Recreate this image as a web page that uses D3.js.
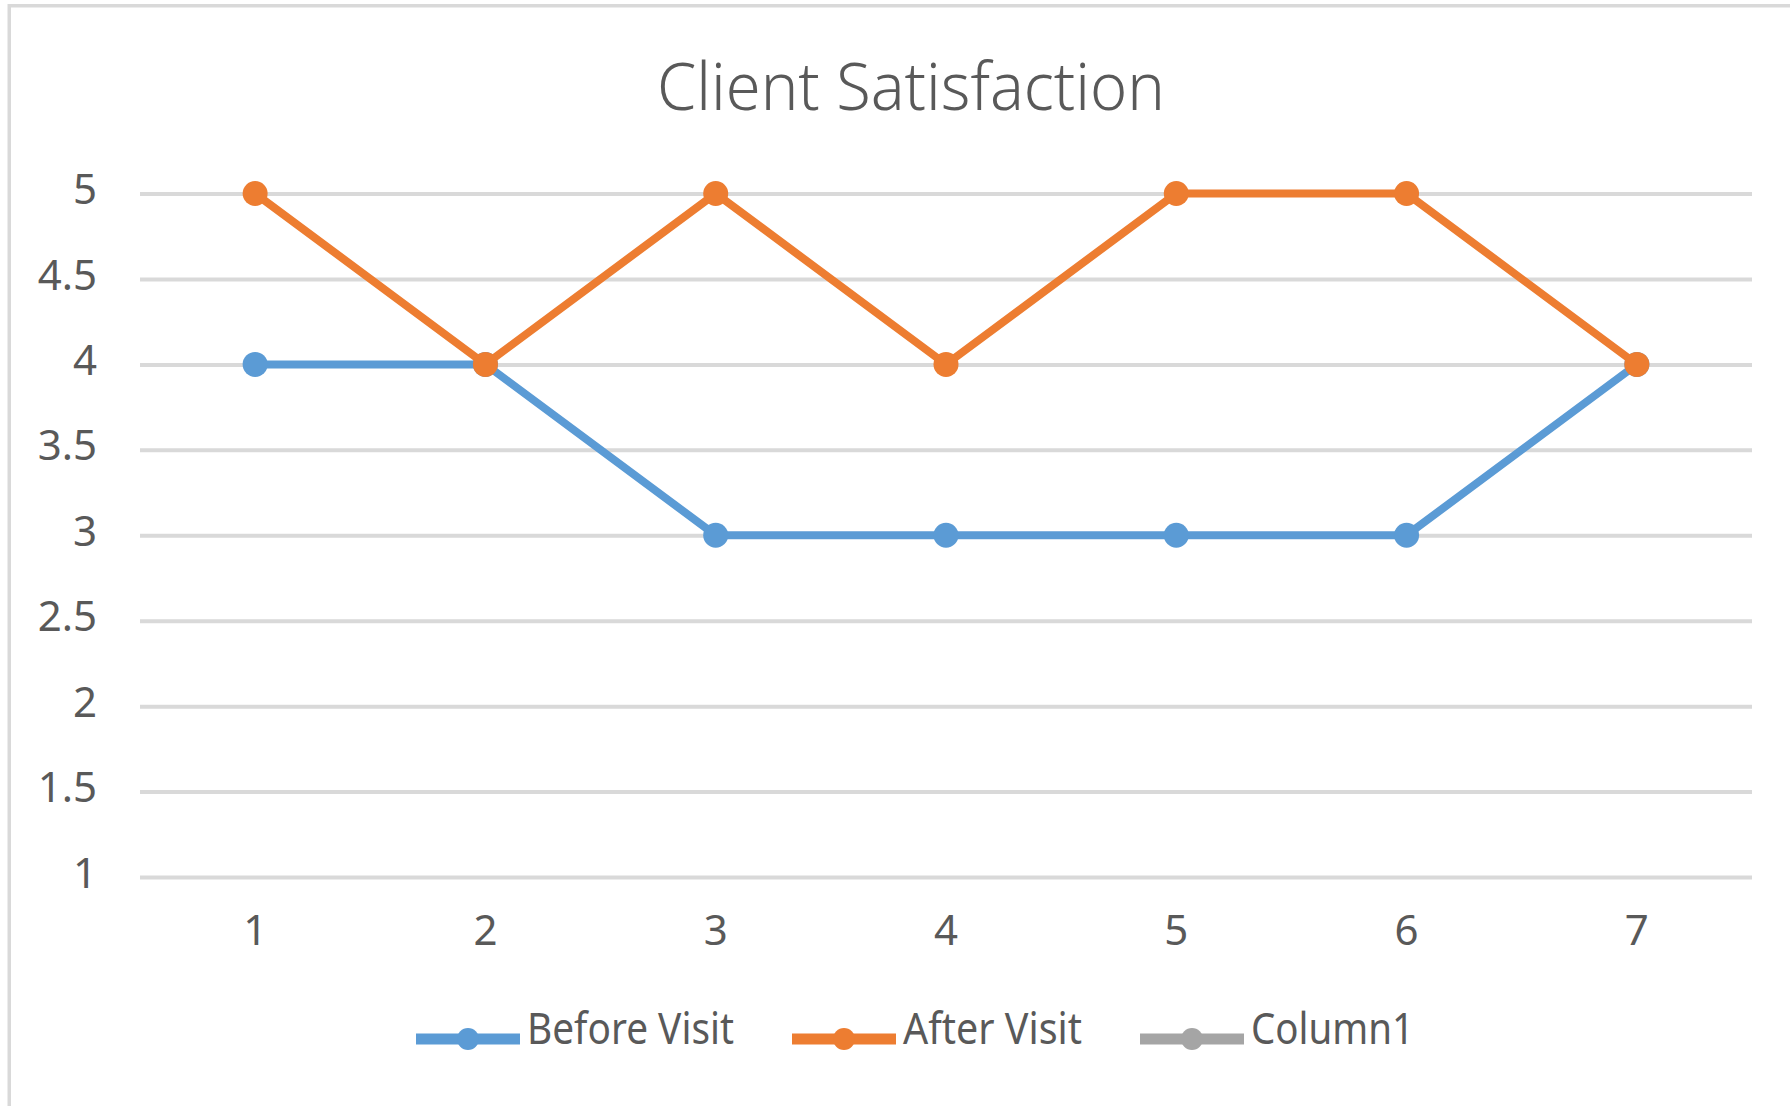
<!DOCTYPE html>
<html>
<head>
<meta charset="utf-8">
<script src="https://cdn.jsdelivr.net/npm/d3@7"></script>
<style>
  body { margin: 0; background: #fff; }
  text { font-family: "Noto Sans", "Open Sans", sans-serif; fill: #595959; }
</style>
</head>
<body>
<div id="chart"></div>
<script>
// data
const categories = ["1", "2", "3", "4", "5", "6", "7"];
const beforeVisit = [4, 4, 3, 3, 3, 3, 4];
const afterVisit = [5, 4, 5, 4, 5, 5, 4];
const column1 = []; // empty series, only shows up in the legend
const yTicks = [1, 1.5, 2, 2.5, 3, 3.5, 4, 4.5, 5];

const seriesNames = ["Before Visit", "After Visit", "Column1"];
const seriesColors = ["#5B9BD5", "#ED7D31", "#A5A5A5"];
const seriesValues = [beforeVisit, afterVisit, column1];

const W = 1790, H = 1106;
const margin = { top: 193.5, left: 140, right: W - 1752, bottom: H - 877 };
const width = W - margin.left - margin.right;
const height = H - margin.top - margin.bottom;

const svg = d3.select("#chart").append("svg").attr("width", W).attr("height", H);

// chart area border (runs off the right and bottom edges)
svg.append("rect")
    .attr("x", 9.25).attr("y", 5.75)
    .attr("width", W + 50).attr("height", H + 50)
    .attr("fill", "none")
    .attr("stroke", "#D9D9D9")
    .attr("stroke-width", 3.5);

// title
svg.append("text")
    .attr("x", 911).attr("y", 110)
    .attr("text-anchor", "middle")
    .attr("font-size", 66)
    .attr("font-weight", 300)
    .attr("textLength", 508)
    .attr("lengthAdjust", "spacingAndGlyphs")
    .text("Client Satisfaction");

const x = d3.scaleBand().domain(categories).range([0, width]);
const y = d3.scaleLinear().domain([1, 5]).range([height, 0]);

const g = svg.append("g").attr("transform", `translate(${margin.left},${margin.top})`);

// y axis with gridlines
const yAxis = g.append("g")
    .call(d3.axisLeft(y).tickValues(yTicks).tickFormat(d3.format("")).tickSize(-width).tickPadding(43));
yAxis.select(".domain").remove();
yAxis.selectAll("line").attr("stroke", "#D9D9D9").attr("stroke-width", 4);
yAxis.selectAll("text")
    .attr("font-size", 42)
    .attr("dy", "0.24em")
    .attr("fill", "#595959")
    .attr("font-family", "'Noto Sans', sans-serif");

// x axis labels
const xAxis = g.append("g")
    .attr("transform", `translate(0,${height})`)
    .call(d3.axisBottom(x).tickSize(0).tickPadding(38));
xAxis.select(".domain").remove();
xAxis.selectAll("text")
    .attr("font-size", 42)
    .attr("fill", "#595959")
    .attr("font-family", "'Noto Sans', sans-serif");

const cx = (d, i) => x(categories[i]) + x.bandwidth() / 2;
const line = d3.line().x(cx).y(d => y(d));

seriesValues.forEach((vals, s) => {
  if (!vals.length) return;
  g.append("path")
      .datum(vals)
      .attr("fill", "none")
      .attr("stroke", seriesColors[s])
      .attr("stroke-width", 8)
      .attr("stroke-linejoin", "round")
      .attr("d", line);
  g.selectAll(".m" + s)
      .data(vals)
      .enter()
      .append("circle")
      .attr("cx", cx)
      .attr("cy", d => y(d))
      .attr("r", 12.5)
      .attr("fill", seriesColors[s]);
});

// legend
const textWidths = [207, 179, 163];
const symW = 104, textGap = 7, itemGap = 58;
let lx = 416;
seriesNames.forEach((name, i) => {
  const item = svg.append("g").attr("transform", `translate(${lx},1039)`);
  item.append("line")
      .attr("x1", 0).attr("x2", symW)
      .attr("stroke", seriesColors[i])
      .attr("stroke-width", 11);
  item.append("circle")
      .attr("cx", symW / 2).attr("r", 11)
      .attr("fill", seriesColors[i]);
  item.append("text")
      .attr("x", symW + textGap).attr("y", 5)
      .attr("font-size", 43)
      .attr("textLength", textWidths[i])
      .attr("lengthAdjust", "spacingAndGlyphs")
      .text(name);
  lx += symW + textGap + textWidths[i] + itemGap;
});
</script>
</body>
</html>
